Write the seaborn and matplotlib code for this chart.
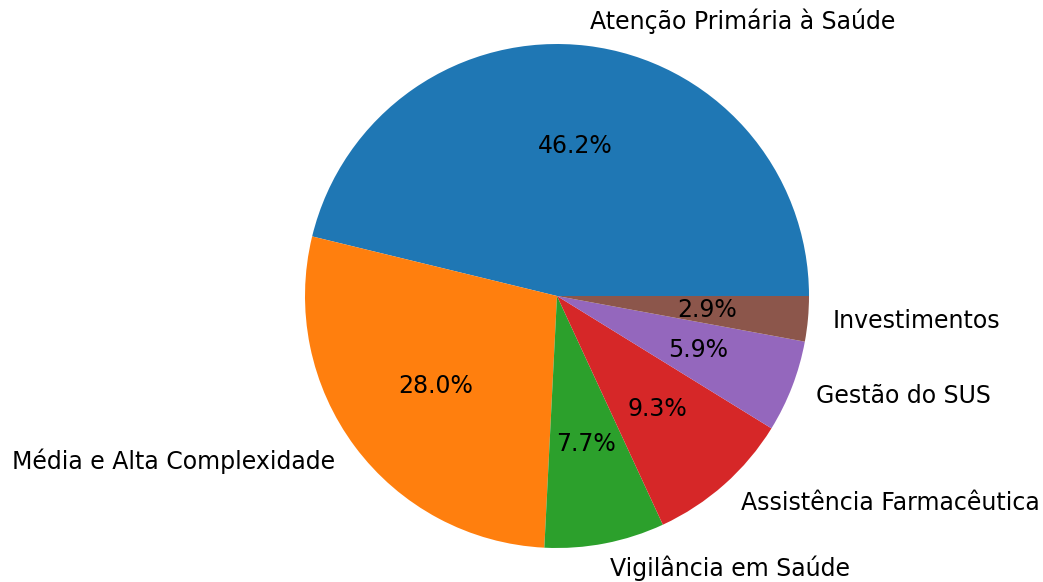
import matplotlib
matplotlib.use("Agg")
import matplotlib.pyplot as plt
import seaborn as sns

# ======================================================
# Data
# ======================================================

categories = [
    "Atenção Primária à Saúde",
    "Média e Alta Complexidade",
    "Vigilância em Saúde",
    "Assistência Farmacêutica",
    "Gestão do SUS",
    "Investimentos",
]
shares = [46.2, 28.0, 7.7, 9.3, 5.9, 2.9]

# ======================================================
# Plot
# ======================================================

sns.set_style("white")
colors = sns.color_palette("tab10", len(categories))

fig = plt.figure(figsize=(10.43, 5.82), dpi=100)
ax = fig.add_axes([0, 0, 1, 1])

ax.pie(
    shares,
    labels=categories,
    colors=colors,
    autopct="%1.1f%%",
    textprops={"fontsize": 17, "color": "black"},
    wedgeprops={"linewidth": 0},
)

# place the pie: centre (557, 296) px, radius 252 px
r = 252
cx, cy = 557, 582 - 296
ax.set_xlim(-cx / r, (1043 - cx) / r)
ax.set_ylim(-cy / r, (582 - cy) / r)
ax.set_aspect("auto")
ax.axis("off")

fig.savefig("out.png", dpi=100)
